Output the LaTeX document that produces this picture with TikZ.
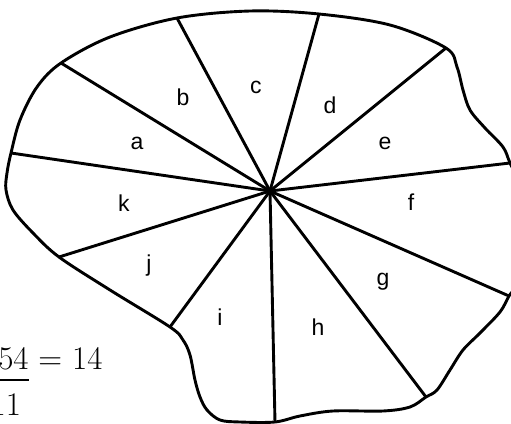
\documentclass[tikz,border=0pt]{standalone}
\usepackage{fontspec}
\newfontfamily\labelfont{Liberation Sans}
\usetikzlibrary{positioning}

\begin{document}
\begin{tikzpicture}[x=0.5pt, y=-0.5pt, line join=round,
  every node/.style={inner sep=0pt},
  region/.style={font=\labelfont\fontsize{11.5}{13}\selectfont},
  sum/.style={font=\fontsize{16.5}{20}\selectfont},
  rim/.style={line width=1.45pt},
  spoke/.style={line width=1.45pt}]
  \useasboundingbox (0,0) rectangle (511,424);
  \clip (0,0) rectangle (511,424);
  % centre and the ends of the spokes on the rim
  \coordinate (O) at (270,191);
  \coordinate (s1) at (11,153);
  \coordinate (s2) at (61,63);
  \coordinate (s3) at (177,18);
  \coordinate (s4) at (319,14);
  \coordinate (s5) at (446,48);
  \coordinate (s6) at (510,163);
  \coordinate (s7) at (509,296);
  \coordinate (s8) at (426,397);
  \coordinate (s9) at (275,422);
  \coordinate (s10) at (170,327);
  \coordinate (s11) at (59,257);
  \draw[rim] plot[smooth cycle, tension=0.55] coordinates {
    (s1) (20,120) (37,87) (s2) (110,37) (s3) (250,11) (s4) (390,25) (s5)
    (457,67) (463,90) (470,110) (485,128) (503,147) (s6) (522,190) (528,240)
    (518,282) (s7) (500,312) (480,333) (463,350) (450,370) (437,390) (s8)
    (410,407) (383,411) (333,411) (300,416) (s9) (240,422) (220,420)
    (207,410) (200,397) (195,380) (190,355) (183,340) (s10) (110,290) (s11)
    (33,233) (13,210) (6,190) (7,173)};
  \foreach \i in {1,...,11} {
    \draw[spoke] (O) -- (s\i);
  }
  \foreach \name/\x/\y in {a/137/143, b/183/97, c/256/87, d/330/105,
      e/385/143, f/411/202, g/383/282, h/318/327, i/220/317, j/149/266,
      k/124/203} {
    \node[region] (lbl-\name) at (\x,\y) {\name};
  }
  % the sum at the bottom left
  \node[sum, anchor=base east] (num) at (29,369) {154};
  \node[sum, anchor=base west, xshift=4.5pt] (res) at (num.base east) {= 14};
  \node[sum, below=11.5pt of num] (den) {11};
  \draw[line width=0.8pt] ([yshift=-5.5pt]num.base west) -- ([yshift=-5.5pt]num.base east);
\end{tikzpicture}
\end{document}
